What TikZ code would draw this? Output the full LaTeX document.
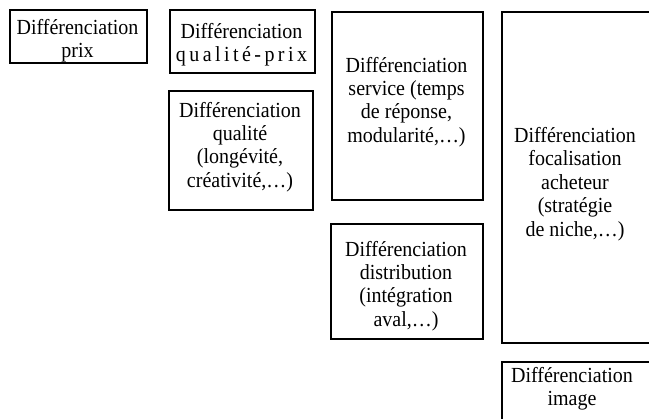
\documentclass[tikz,border=0pt]{standalone}
\usepackage{fontspec}
\setmainfont[FakeStretch=0.93]{Liberation Serif}
\newfontfamily\spaced[FakeStretch=0.93,LetterSpace=16]{Liberation Serif}
\begin{document}
\begin{tikzpicture}[x=1pt,y=-1pt,
  box/.style={draw=black, line width=1.9pt, anchor=north west, inner sep=0pt},
  lbl/.style={inner sep=0pt, align=center, font=\fontsize{21.5}{23.4}\selectfont}]
\useasboundingbox (0,0) rectangle (649,419);
\clip (0,0) rectangle (649,419);
\node[box, minimum width=137pt, minimum height=53pt] (prix) at (9,9) {};
\node[lbl] (prixt) at (77.5,41) {Différenciation\\prix};
\node[box, minimum width=145pt, minimum height=63pt] (qprix) at (169,9) {};
\node[lbl] (qprixt) at (241.5,45) {Différenciation\\{\spaced qualité-prix}};
\node[box, minimum width=144pt, minimum height=119pt] (qual) at (168,90) {};
\node[lbl] (qualt) at (240,147)
  {Différenciation\\qualité\\(longévité,\\créativité,\ldots)};
\node[box, minimum width=151pt, minimum height=188pt] (serv) at (331,11) {};
\node[lbl] (servt) at (406.5,102)
  {Différenciation\\service (temps\\de réponse,\\modularité,\ldots)};
\node[box, minimum width=152pt, minimum height=115pt] (dist) at (330,223) {};
\node[lbl] (distt) at (406,286)
  {Différenciation\\distribution\\(intégration\\aval,\ldots)};
\node[box, minimum width=170pt, minimum height=331pt] (foc) at (501,11) {};
\node[lbl] (foct) at (575,184)
  {Différenciation\\focalisation\\acheteur\\(stratégie\\de niche,\ldots)};
\node[box, minimum width=170pt, minimum height=80pt] (img) at (501,361) {};
\node[lbl, anchor=north] (imgt) at (572,367) {Différenciation\\image};
\end{tikzpicture}
\end{document}
